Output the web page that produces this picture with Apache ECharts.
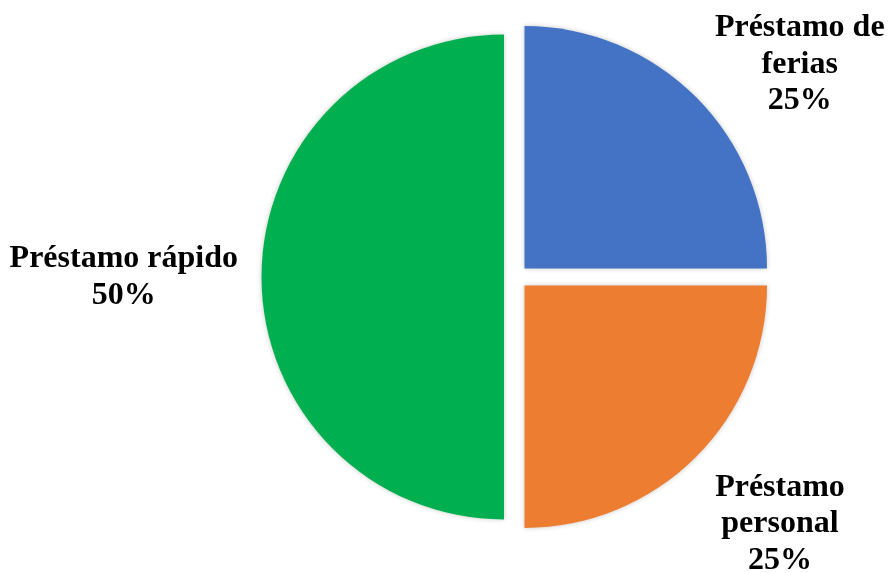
<!DOCTYPE html>
<html><head><meta charset="utf-8">
<script src="https://cdn.jsdelivr.net/npm/echarts@6/dist/echarts.min.js"></script>
<style>html,body{margin:0;padding:0;background:#fff}#c{width:888px;height:573px}</style>
</head><body><div id="c"></div>
<script>
const categories = ['Préstamo de ferias', 'Préstamo personal', 'Préstamo rápido'];
const labelLines = [['Préstamo de', 'ferias'], ['Préstamo', 'personal'], ['Préstamo rápido']];
const values = [25, 25, 50];
const colors = ['#4472C4', '#ED7D31', '#00B050'];
// label placement tweaks (style only)
const labelPlacement = [
  { length: 46, length2: -18.6 },
  { length: 95, length2: -53 },
  { length: 10, length2: 8.5 }
];

const chart = echarts.init(document.getElementById('c'), null, { renderer: 'canvas' });
const data = categories.map((name, i) => ({
  name: name,
  value: values[i],
  selected: true,
  itemStyle: { color: colors[i] },
  labelLine: { show: false, length: labelPlacement[i].length, length2: labelPlacement[i].length2 }
}));
chart.setOption({
  animation: false,
  backgroundColor: '#ffffff',
  series: [{
    type: 'pie',
    center: [516, 277],
    radius: 242.5,
    startAngle: 90,
    clockwise: true,
    selectedMode: 'multiple',
    selectedOffset: 12,
    avoidLabelOverlap: false,
    itemStyle: {
      shadowBlur: 5,
      shadowColor: 'rgba(0,0,0,0.22)'
    },
    emphasis: { disabled: true },
    label: {
      show: true,
      position: 'outside',
      distanceToLabelLine: 5,
      formatter: function (p) {
        const lines = labelLines[p.dataIndex].map(l => '{t|' + l + '}');
        lines.push('{t|' + Math.round(p.percent) + '%}');
        return lines.join('\n');
      },
      rich: {
        t: {
          fontFamily: 'Liberation Serif',
          fontWeight: 'bold',
          fontSize: 32,
          lineHeight: 36.5,
          color: '#000000',
          align: 'center'
        }
      }
    },
    labelLine: { show: false },
    data: data
  }]
});
</script></body></html>
